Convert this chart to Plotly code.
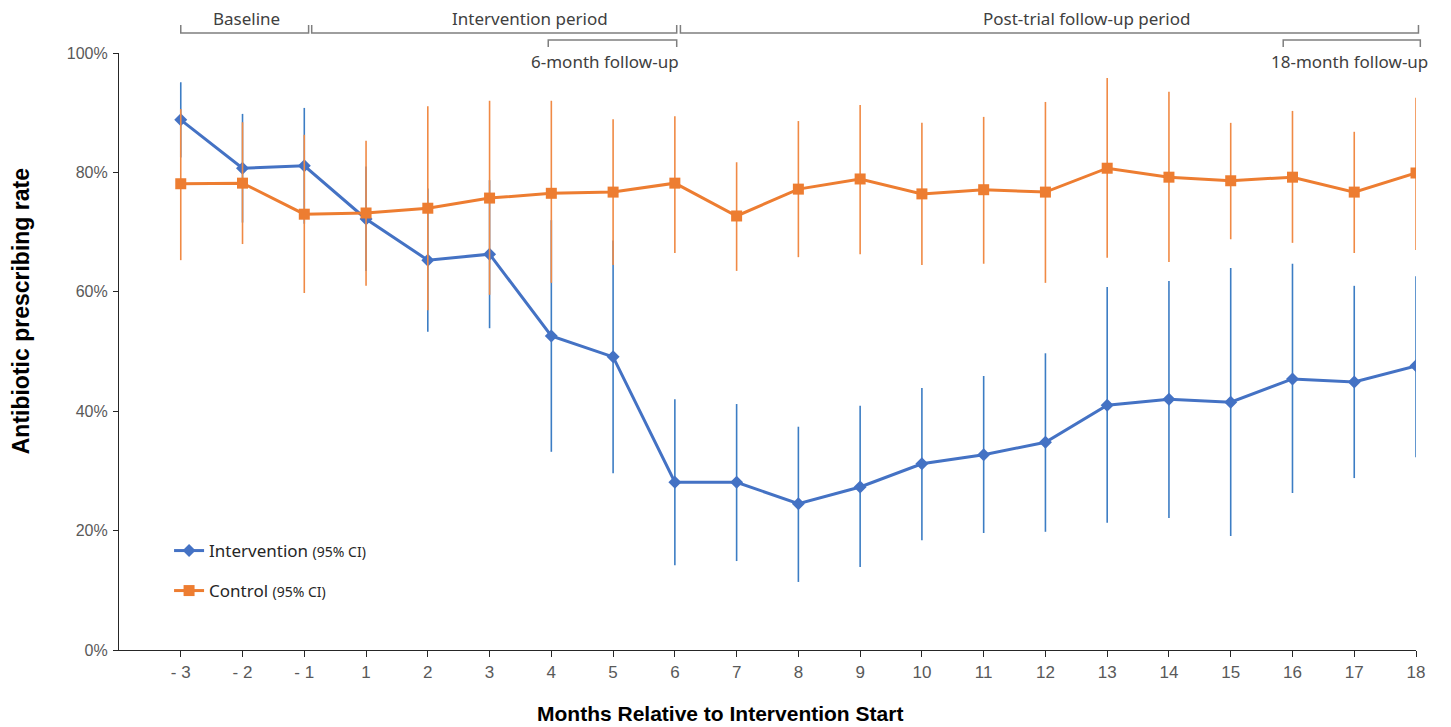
import plotly.graph_objects as go

months = ["-3", "-2", "-1", "1", "2", "3", "4", "5", "6", "7", "8", "9",
          "10", "11", "12", "13", "14", "15", "16", "17", "18"]
tick_labels = ["- 3", "- 2", "- 1", "1", "2", "3", "4", "5", "6", "7", "8", "9",
               "10", "11", "12", "13", "14", "15", "16", "17", "18"]

intervention = [88.8, 80.7, 81.1, 72.2, 65.3, 66.3, 52.6, 49.1, 28.1, 28.1, 24.5,
                27.3, 31.2, 32.7, 34.8, 41.0, 42.0, 41.5, 45.4, 44.9, 47.6]
intervention_upper = [95.1, 89.8, 90.8, 81.0, 77.3, 78.7, 72.0, 68.6, 42.0, 41.2, 37.4,
                      40.9, 43.9, 45.9, 49.7, 60.8, 61.8, 64.0, 64.7, 61.0, 62.6]
intervention_lower = [82.5, 71.6, 71.4, 63.5, 53.3, 53.9, 33.2, 29.6, 14.2, 14.9, 11.4,
                      13.9, 18.4, 19.6, 19.8, 21.3, 22.1, 19.1, 26.3, 28.8, 32.3]

control = [78.1, 78.2, 73.0, 73.2, 74.0, 75.7, 76.5, 76.7, 78.2, 72.7, 77.2,
           78.9, 76.4, 77.1, 76.7, 80.7, 79.2, 78.6, 79.2, 76.7, 79.9]
control_upper = [90.6, 88.4, 86.3, 85.3, 91.1, 92.0, 92.0, 88.9, 89.4, 81.7, 88.6,
                 91.3, 88.3, 89.3, 91.8, 95.8, 93.5, 88.3, 90.3, 86.8, 92.5]
control_lower = [65.3, 68.0, 59.8, 61.0, 56.9, 59.5, 61.5, 64.5, 66.5, 63.5, 65.8,
                 66.3, 64.5, 64.7, 61.5, 65.7, 65.0, 68.8, 68.2, 66.5, 67.0]

period_labels = ["Baseline", "Intervention period", "Post-trial follow-up period"]
followup_labels = ["6-month follow-up", "18-month follow-up"]

idx = list(range(len(months)))
X_RANGE = [-1, 20]

BLUE = "#4472C4"
BLUE_ERR = "#3C7DC4"
ORANGE = "#ED7D31"
ORANGE_ERR = "#F08A45"
TXT = "#404040"
TICK = "#595959"
ANN_FONT = "Noto Sans, Liberation Sans, Arial, sans-serif"

def to_paper(xv):
    return (xv - X_RANGE[0]) / (X_RANGE[1] - X_RANGE[0])

fig = go.Figure()

fig.add_trace(go.Scatter(
    x=idx, y=intervention, mode="lines+markers",
    name="Intervention <span style='font-size:14px'>(95% CI)</span>",
    line=dict(color=BLUE, width=3),
    marker=dict(symbol="diamond", size=10, color=BLUE),
    error_y=dict(type="data", symmetric=False,
                 array=[u - v for u, v in zip(intervention_upper, intervention)],
                 arrayminus=[v - l for v, l in zip(intervention, intervention_lower)],
                 color=BLUE_ERR, thickness=1.6, width=0),
    legend="legend",
))

fig.add_trace(go.Scatter(
    x=idx, y=control, mode="lines+markers",
    name="Control <span style='font-size:14px'>(95% CI)</span>",
    line=dict(color=ORANGE, width=3),
    marker=dict(symbol="square", size=11, color=ORANGE),
    error_y=dict(type="data", symmetric=False,
                 array=[u - v for u, v in zip(control_upper, control)],
                 arrayminus=[v - l for v, l in zip(control, control_lower)],
                 color=ORANGE_ERR, thickness=1.6, width=0),
    legend="legend2",
))

# Period brackets (opening upward) and follow-up brackets (opening downward)
shapes = []
def bracket(x0, x1, ybase, yend):
    p0, p1 = to_paper(x0), to_paper(x1)
    return dict(type="path", xref="paper", yref="paper",
                path=f"M {p0},{yend} L {p0},{ybase} L {p1},{ybase} L {p1},{yend}",
                line=dict(color="#7F7F7F", width=1.5))

top_y, top_end = 1.0335, 1.047
shapes.append(bracket(0.0, 2.07, top_y, top_end))
shapes.append(bracket(2.12, 8.03, top_y, top_end))
shapes.append(bracket(8.09, 20.04, top_y, top_end))
low_y, low_end = 1.0218, 1.0100
shapes.append(bracket(5.95, 8.03, low_y, low_end))
shapes.append(bracket(17.85, 20.07, low_y, low_end))

annotations = []
for lab, xc in zip(period_labels, [1.07, 5.65, 14.67]):
    annotations.append(dict(text=lab, x=xc, y=1.0586, xref="x", yref="paper",
                            showarrow=False, font=dict(size=17, color=TXT, family=ANN_FONT),
                            xanchor="center", yanchor="middle"))
for lab, xc in zip(followup_labels, [6.87, 18.92]):
    annotations.append(dict(text=lab, x=xc, y=0.986, xref="x", yref="paper",
                            showarrow=False, font=dict(size=17, color=TXT, family=ANN_FONT),
                            xanchor="center", yanchor="middle"))

annotations.append(dict(text="<b>Months Relative to Intervention Start</b>",
                        x=0.4635, y=-0.106, xref="paper", yref="paper",
                        showarrow=False, xanchor="center", yanchor="middle",
                        font=dict(size=21, color="#000000",
                                  family="Liberation Sans Narrow, Arial Narrow, Liberation Sans, sans-serif")))
annotations.append(dict(text="<b>Antibiotic prescribing rate</b>",
                        x=-0.0755, y=0.5675, xref="paper", yref="paper",
                        showarrow=False, xanchor="center", yanchor="middle",
                        textangle=-90,
                        font=dict(size=23, color="#000000",
                                  family="Liberation Sans, Arial, sans-serif")))

fig.update_layout(
    width=1451, height=727,
    margin=dict(l=119, r=35, t=53, b=77),
    paper_bgcolor="white", plot_bgcolor="white",
    font=dict(family="Liberation Sans, Arial, sans-serif", color=TXT),
    shapes=shapes, annotations=annotations,
    legend=dict(x=0.0386, y=0.1658, xanchor="left", yanchor="middle",
                bgcolor="rgba(0,0,0,0)", borderwidth=0,
                font=dict(size=17, color="#262626", family=ANN_FONT)),
    legend2=dict(x=0.0386, y=0.0988, xanchor="left", yanchor="middle",
                 bgcolor="rgba(0,0,0,0)", borderwidth=0,
                 font=dict(size=17, color="#262626", family=ANN_FONT)),
    showlegend=True,
)

fig.update_xaxes(
    range=X_RANGE, tickmode="array", tickvals=idx, ticktext=tick_labels,
    showline=True, linecolor="#262626", linewidth=1.2,
    ticks="outside", ticklen=6, tickcolor="#262626", tickwidth=1,
    showgrid=False, zeroline=False,
    tickfont=dict(size=17, color=TICK,
                  family="Liberation Sans Narrow, Arial Narrow, Liberation Sans, sans-serif"),
)
fig.update_yaxes(
    range=[0, 100], tickmode="linear", tick0=0, dtick=20, ticksuffix="%",
    showline=True, linecolor="#262626", linewidth=1.2,
    ticks="outside", ticklen=5, tickcolor="#262626", tickwidth=1,
    ticklabelstandoff=2,
    showgrid=False, zeroline=False,
    tickfont=dict(size=16, color=TICK, family="Liberation Sans, Arial, sans-serif"),
)

fig.write_html("out.html", config={"displayModeBar": False},
               post_script="document.body.style.margin='0px';document.body.style.overflow='hidden';")
